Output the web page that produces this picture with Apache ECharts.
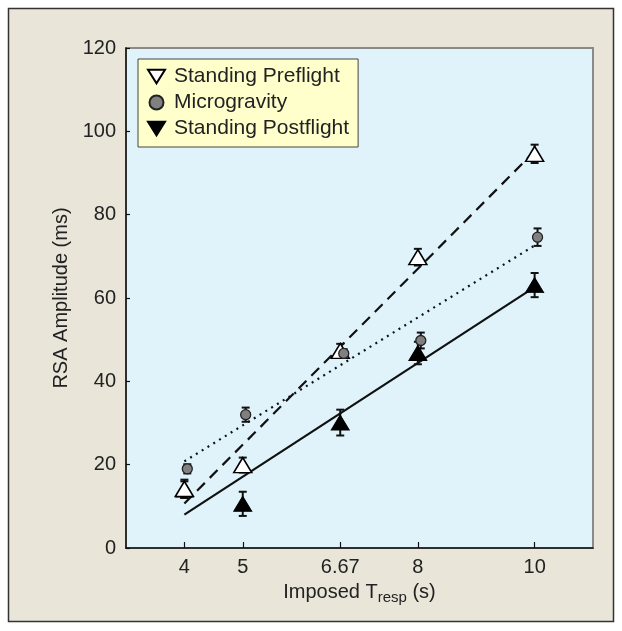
<!DOCTYPE html>
<html>
<head>
<meta charset="utf-8">
<script src="https://cdn.jsdelivr.net/npm/echarts@6/dist/echarts.min.js"></script>
<style>
html,body{margin:0;padding:0;background:#ffffff;}
#chart{width:622px;height:631px;}
</style>
</head>
<body>
<div id="chart"></div>
<script>
// ---- data ----
var xTicks = [4, 5, 6.67, 8, 10];
var yTicks = [0, 20, 40, 60, 80, 100, 120];

var preX = [4, 5, 6.67, 8, 10];
var preY = [14.2, 19.9, 47.3, 69.8, 94.6];
var preErr = [2.2, 1.8, 1.7, 2.0, 2.2];

var microX = [4.05, 5.05, 6.73, 8.05, 10.05];
var microY = [19.0, 32.0, 46.7, 49.8, 74.6];
var microErr = [1.1, 1.7, 1.0, 1.9, 2.1];

var postX = [4, 5, 6.67, 8, 10];
var postY = [14.0, 10.6, 30.1, 46.8, 63.1];
var postErr = [2.0, 2.9, 3.1, 2.7, 2.9];

var fitX = [4, 10];
var fitPre = [10.7, 95.2];
var fitMicro = [20.8, 72.6];
var fitPost = [8.0, 62.6];

var names = ['Standing Preflight', 'Microgravity', 'Standing Postflight'];

function pairs(xs, ys) { return xs.map(function (x, i) { return [x, ys[i]]; }); }
function bars(xs, ys, es) { return xs.map(function (x, i) { return [x, ys[i] - es[i], ys[i] + es[i]]; }); }

function renderErr(params, api) {
  var x = api.value(0), lo = api.value(1), hi = api.value(2);
  var p1 = api.coord([x, lo]), p2 = api.coord([x, hi]);
  var w = 4;
  var segs = [
    [p1[0], p1[1], p2[0], p2[1]],
    [p1[0] - w, p1[1], p1[0] + w, p1[1]],
    [p2[0] - w, p2[1], p2[0] + w, p2[1]]
  ];
  return {
    type: 'group',
    children: segs.map(function (s) {
      return { type: 'line', shape: { x1: s[0], y1: s[1], x2: s[2], y2: s[3] },
               style: { stroke: '#111', lineWidth: 2 } };
    })
  };
}

function errSeries(name, xs, ys, es, z) {
  return { type: 'custom', name: name, renderItem: renderErr, data: bars(xs, ys, es),
           encode: { x: 0, y: [1, 2] }, z: z, silent: true };
}
function fitSeries(name, ys, lineType) {
  return { type: 'line', name: name, data: pairs(fitX, ys), symbol: 'none', z: 2, silent: true,
           lineStyle: { color: '#111', width: 2.2, type: lineType, cap: 'butt' } };
}

var textColor = '#222';
var chart = echarts.init(document.getElementById('chart'), null, { renderer: 'canvas' });
chart.setOption({
  backgroundColor: '#ffffff',
  animation: false,
  graphic: [{
    type: 'rect', z: -100,
    shape: { x: 8.5, y: 8.5, width: 605, height: 613 },
    style: { fill: '#e9e5d9', stroke: '#333', lineWidth: 1.5 }
  }],
  grid: {
    left: 126, right: 29, top: 48, bottom: 83,
    show: true, backgroundColor: '#e0f3fb', borderColor: '#8a8a8a', borderWidth: 2
  },
  legend: {
    orient: 'vertical', left: 138, top: 59,
    data: [
      { name: names[0], icon: 'path://M0,0 L20,0 L10,16 Z' },
      { name: names[1], icon: 'circle' },
      { name: names[2], icon: 'path://M0,0 L20,0 L10,16 Z' }
    ],
    itemWidth: 17, itemHeight: 14, itemGap: 5,
    padding: [7, 9, 8, 9],
    backgroundColor: '#ffffcc', borderColor: '#444', borderWidth: 1,
    selectedMode: false,
    textStyle: { fontFamily: 'Liberation Sans', fontSize: 21, color: textColor, padding: [0, 0, 0, 4] }
  },
  xAxis: {
    type: 'value', min: 3, max: 11,
    name: 'Imposed T{sub|resp} (s)', nameLocation: 'middle', nameGap: 31,
    nameTextStyle: { fontFamily: 'Liberation Sans', fontSize: 20, color: textColor,
      rich: { sub: { fontFamily: 'Liberation Sans', fontSize: 15, color: textColor, padding: [11, 0, 0, 0] } } },
    axisLine: { show: true, lineStyle: { color: '#111', width: 1.5 } },
    axisTick: { show: true, inside: true, length: 6, customValues: xTicks, lineStyle: { color: '#111', width: 1.2 } },
    axisLabel: { customValues: xTicks, margin: 9, fontFamily: 'Liberation Sans', fontSize: 20, color: textColor,
      formatter: function (v) { return String(v); } },
    splitLine: { show: false }
  },
  yAxis: {
    type: 'value', min: 0, max: 120, interval: 20,
    name: 'RSA Amplitude (ms)', nameLocation: 'middle', nameGap: 54,
    nameTextStyle: { fontFamily: 'Liberation Sans', fontSize: 20, color: textColor },
    axisLine: { show: true, lineStyle: { color: '#111', width: 1.5 } },
    axisTick: { show: true, inside: true, length: 4, lineStyle: { color: '#111', width: 1.2 } },
    axisLabel: { margin: 10, fontFamily: 'Liberation Sans', fontSize: 20, color: textColor,
      customValues: yTicks },
    splitLine: { show: false }
  },
  series: [
    fitSeries('fitPre', fitPre, [11, 7]),
    fitSeries('fitMicro', fitMicro, [2, 4.8]),
    fitSeries('fitPost', fitPost, 'solid'),
    errSeries('errPost', postX, postY, postErr, 3),
    errSeries('errMicro', microX, microY, microErr, 3),
    errSeries('errPre', preX, preY, preErr, 3),
    { type: 'scatter', name: names[2], data: pairs(postX, postY), symbol: 'triangle', symbolSize: [18, 15], z: 4,
      itemStyle: { color: '#000', borderColor: '#000', borderWidth: 1, opacity: 1 } },
    { type: 'scatter', name: names[0], data: pairs(preX, preY), symbol: 'triangle', symbolSize: [18, 15], z: 5,
      itemStyle: { color: '#ffffff', borderColor: '#000', borderWidth: 1.5, opacity: 1 } },
    { type: 'scatter', name: names[1], data: pairs(microX, microY), symbol: 'circle', symbolSize: 10, z: 6,
      itemStyle: { color: '#808080', borderColor: '#222', borderWidth: 1.3, opacity: 1 } }
  ]
});
</script>
</body>
</html>
